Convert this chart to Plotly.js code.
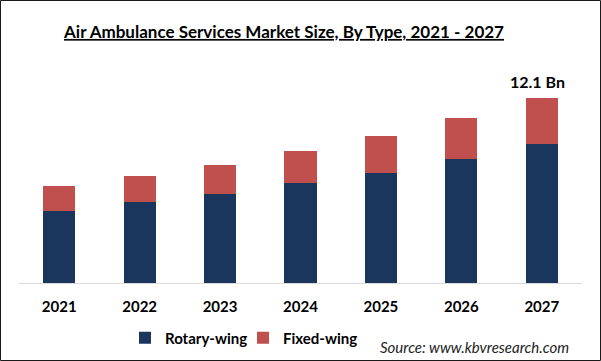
<!DOCTYPE html>
<html>
<head>
<meta charset="utf-8">
<script src="https://cdn.plot.ly/plotly-3.0.1.min.js"></script>
<style>
  html, body { margin: 0; padding: 0; background: #fff; }
  #chart { width: 601px; height: 361px; }
</style>
</head>
<body>
<div id="chart"></div>
<script>
// ---- data ----
const years = ['2021', '2022', '2023', '2024', '2025', '2026', '2027'];
const rotaryWing = [4.71, 5.30, 5.82, 6.52, 7.19, 8.09, 9.09];
const fixedWing = [1.60, 1.70, 1.90, 2.11, 2.42, 2.68, 3.01];
const seriesNames = ['Rotary-wing', 'Fixed-wing'];
const totalLabel = '12.1 Bn';

// ---- layout constants ----
const W = 601, H = 361;
const M = { l: 19, r: 19, t: 84, b: 78 };
const plotW = W - M.l - M.r, plotH = H - M.t - M.b;
const px2x = p => (p - M.l) / plotW;
const px2y = p => (H - M.b - p) / plotH;

const FONT = 'Lato, "Open Sans", Arial, sans-serif';
const NAVY = '#1b365d';
const RED = '#c0504d';

const traces = [
  {
    type: 'bar', name: seriesNames[0], x: years, y: rotaryWing,
    marker: { color: NAVY }, width: 0.4, hoverinfo: 'x+y+name'
  },
  {
    type: 'bar', name: seriesNames[1], x: years, y: fixedWing,
    marker: { color: RED }, width: 0.4, hoverinfo: 'x+y+name'
  }
];

const lastIdx = years.length - 1;
const lastTotal = rotaryWing[lastIdx] + fixedWing[lastIdx];

const layout = {
  width: W, height: H,
  margin: M,
  barmode: 'stack',
  paper_bgcolor: '#fff',
  plot_bgcolor: '#fff',
  font: { family: FONT, color: '#000' },
  title: {
    text: '<b><u>Air Ambulance Services Market Size, By Type, 2021 - 2027</u></b>',
    font: { family: FONT, size: 17, color: '#000' },
    xref: 'container', x: 284 / W, xanchor: 'center',
    yref: 'container', y: 1 - 32 / H, yanchor: 'middle'
  },
  xaxis: {
    type: 'category',
    range: [-0.5, years.length - 0.5],
    automargin: false,
    showline: true, linecolor: '#d9d9d9', linewidth: 1,
    ticks: '', showgrid: false, zeroline: false,
    tickfont: { family: FONT, size: 15, color: '#000', weight: 'bold' },
    ticklabelstandoff: 10,
    fixedrange: true
  },
  yaxis: {
    range: [0, 13], visible: false, showgrid: false, zeroline: false,
    automargin: false,
    fixedrange: true
  },
  showlegend: true,
  legend: {
    orientation: 'h',
    xref: 'container', x: 125 / W, xanchor: 'left',
    yref: 'container', y: 1 - 338 / H, yanchor: 'middle',
    entrywidth: 73, entrywidthmode: 'pixels',
    font: { family: FONT, size: 15, color: '#000', weight: 'bold' },
    bgcolor: 'rgba(0,0,0,0)',
    traceorder: 'normal'
  },
  annotations: [
    {
      x: lastIdx, y: lastTotal, xref: 'x', yref: 'y',
      text: '<b>' + totalLabel + '</b>', showarrow: false,
      yanchor: 'bottom', yshift: 5, xshift: -4,
      font: { family: FONT, size: 16, color: '#000' }
    },
    {
      xref: 'paper', yref: 'paper',
      x: px2x(378), xanchor: 'left',
      y: px2y(347), yanchor: 'middle',
      text: 'Source: www.kbvresearch.com', showarrow: false,
      font: { family: FONT, size: 15, color: '#222', style: 'italic' }
    }
  ],
  shapes: [
    {
      type: 'rect', xref: 'paper', yref: 'paper',
      x0: px2x(0.5), x1: px2x(W - 0.5),
      y0: px2y(H - 0.5), y1: px2y(0.5),
      line: { color: '#1a1a1a', width: 1 }, fillcolor: 'rgba(0,0,0,0)',
      layer: 'above'
    }
  ]
};

Plotly.newPlot('chart', traces, layout, { displayModeBar: false });
</script>
</body>
</html>
